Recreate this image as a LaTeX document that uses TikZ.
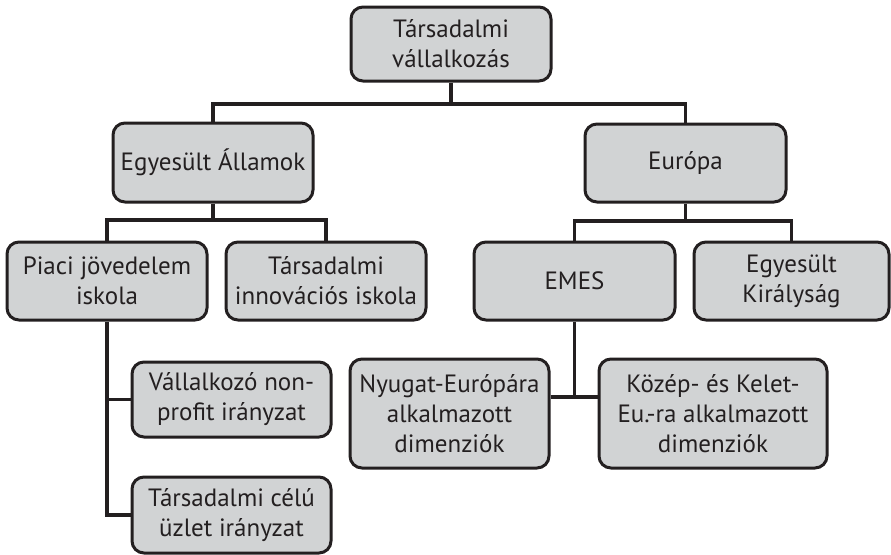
\documentclass[tikz,border=0pt]{standalone}
\usepackage{fontspec}
\setmainfont{PT Sans}
\definecolor{boxfill}{RGB}{209,211,212}
\definecolor{ink}{RGB}{35,31,32}
\begin{document}
\begin{tikzpicture}[x=1pt,y=1pt,
  box/.style={draw=ink, fill=boxfill, line width=3pt, rounded corners=12pt,
    align=center, inner sep=0pt, text=ink, font=\fontsize{25}{30}\selectfont},
  link/.style={draw=ink, line width=3.2pt}]
\useasboundingbox (0,0) rectangle (891,-554);
% nodes
\node[box, minimum width=200pt, minimum height=74pt] (top) at (451,-44) {Társadalmi\\vállalkozás};
\node[box, minimum width=200pt, minimum height=79pt] (EA) at (213,-162.5) {Egyesült Államok};
\node[box, minimum width=201pt, minimum height=78pt] (Eur) at (685.5,-163) {Európa};
\node[box, minimum width=200pt, minimum height=78pt] (Piaci) at (107,-281) {Piaci jövedelem\\iskola};
\node[box, minimum width=200pt, minimum height=78pt] (TI) at (326,-281) {Társadalmi\\innovációs iskola};
\node[box, minimum width=201pt, minimum height=78pt] (EMES) at (574.5,-281) {EMES};
\node[box, minimum width=195pt, minimum height=78pt] (EK) at (791.5,-281) {Egyesült\\Királyság};
\node[box, minimum width=199pt, minimum height=75pt] (Vall) at (231.5,-399.5) {Vállalkozó non-\\profit irányzat};
\node[box, minimum width=199pt, minimum height=76pt] (TC) at (231.5,-515) {Társadalmi célú\\üzlet irányzat};
\node[box, minimum width=199pt, minimum height=109pt] (Nyugat) at (449.5,-413.5) {Nyugat-Európára\\alkalmazott\\dimenziók};
\node[box, minimum width=228pt, minimum height=109pt] (Kozep) at (713,-413.5) {Közép- és Kelet-\\Eu.-ra alkalmazott\\dimenziók};
% bus coordinates
\coordinate (busA) at (0,-104);
\coordinate (busB) at (0,-220);
\coordinate (busC) at (0,-221);
\coordinate (busD) at (0,-397);
% connectors
\draw[link] (top.south) -- (top.south |- busA);
\draw[link] (EA.north) -- (EA.north |- busA) -- (Eur.north |- busA) -- (Eur.north);
\draw[link] (EA.south) -- (EA.south |- busB);
\draw[link] (Piaci.north) -- (Piaci.north |- busB) -- (TI.north |- busB) -- (TI.north);
\draw[link] (Eur.south) -- (Eur.south |- busC);
\draw[link] (EMES.north) -- (EMES.north |- busC) -- (EK.north |- busC) -- (EK.north);
\draw[link] (Piaci.south) -- (Piaci.south |- TC.west) -- (TC.west);
\draw[link] (Piaci.south |- Vall.west) -- (Vall.west);
\draw[link] (EMES.south) -- (EMES.south |- busD);
\draw[link] (Nyugat.east |- busD) -- (Kozep.west |- busD);
\end{tikzpicture}
\end{document}
